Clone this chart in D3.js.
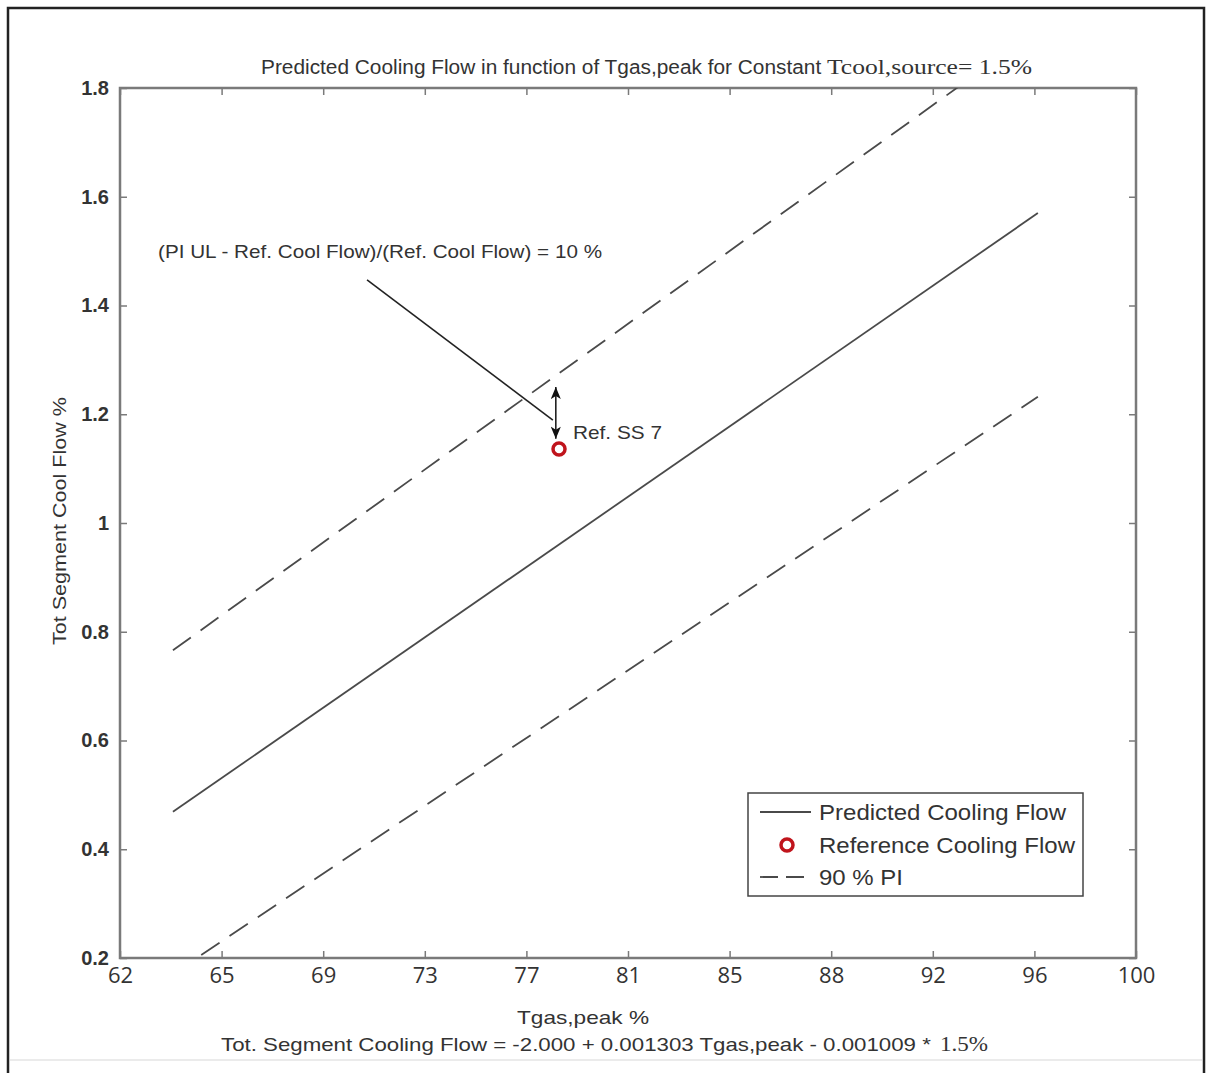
<!DOCTYPE html>
<html>
<head>
<meta charset="utf-8">
<script src="https://cdn.jsdelivr.net/npm/d3@7"></script>
<style>
  html, body { margin: 0; padding: 0; background: #fff; }
  svg { display: block; }
</style>
</head>
<body>
<svg id="chart" width="1207" height="1073"></svg>
<script>
// ---- data ----
const xTickValues = [62, 65.8, 69.6, 73.4, 77.2, 81, 84.8, 88.6, 92.4, 96.2, 100];
const xTickLabels = ["62", "65", "69", "73", "77", "81", "85", "88", "92", "96", "100"];
const yTickValues = [0.2, 0.4, 0.6, 0.8, 1.0, 1.2, 1.4, 1.6, 1.8];
const yTickLabels = ["0.2", "0.4", "0.6", "0.8", "1", "1.2", "1.4", "1.6", "1.8"];

const lineX = [63.98, 96.33];
const predicted = [0.469, 1.570];
const upperPI = [0.766, 1.907];
const lowerPI = [0.171, 1.232];

const refPoint = { x: 78.42, y: 1.136 };
const arrowX = 78.3;
const arrowY = [1.250, 1.155];
const leaderX = [71.24, 78.19];
const leaderY = [1.447, 1.189];

const titleSans = "Predicted Cooling Flow in function of Tgas,peak for Constant ";
const titleSerif = "Tcool,source= 1.5%";
const xLabel = "Tgas,peak %";
const yLabel = "Tot Segment Cool Flow %";
const eqSans = "Tot. Segment Cooling Flow = -2.000 + 0.001303 Tgas,peak - 0.001009 * ";
const eqSerif = "1.5%";
const annText = "(PI UL - Ref. Cool Flow)/(Ref. Cool Flow) = 10 %";
const refLabel = "Ref. SS 7";
const legendLabels = ["Predicted Cooling Flow", "Reference Cooling Flow", "90 % PI"];

// ---- layout ----
const svg = d3.select("#chart");
const L = 120, R = 1136, T = 88, B = 958;
const x = d3.scaleLinear().domain([62, 100]).range([L, R]);
const y = d3.scaleLinear().domain([0.2, 1.8]).range([B, T]);
const axisColor = "#7a7a7a";
const lineColor = "#4a4a4a";
const textColor = "#333";
const sans = "'Liberation Sans', Arial, sans-serif";
const serif = "'Liberation Serif', 'Times New Roman', serif";

// outer frame
svg.append("rect").attr("x", 8).attr("y", 8).attr("width", 1196).attr("height", 1090)
  .attr("fill", "none").attr("stroke", "#222").attr("stroke-width", 2.5);
svg.append("line").attr("x1", 10).attr("x2", 1202).attr("y1", 1060).attr("y2", 1060)
  .attr("stroke", "#e4e4e4").attr("stroke-width", 1.5);

const defs = svg.append("defs");
defs.append("clipPath").attr("id", "plotclip")
  .append("rect").attr("x", L).attr("y", T).attr("width", R - L).attr("height", B - T);
defs.append("marker").attr("id", "ah").attr("viewBox", "0 0 12 10")
  .attr("refX", 12).attr("refY", 5).attr("markerWidth", 13).attr("markerHeight", 10)
  .attr("markerUnits", "userSpaceOnUse").attr("orient", "auto-start-reverse")
  .append("path").attr("d", "M0,0 L12,5 L0,10 L3,5 Z").attr("fill", "#111");

// axes
const tickLen = 7;
const axB = svg.append("g").attr("transform", `translate(0,${B})`)
  .call(d3.axisBottom(x).tickValues(xTickValues).tickSize(-tickLen).tickSizeOuter(0)
    .tickFormat((d, i) => xTickLabels[i]).tickPadding(14));
const axT = svg.append("g").attr("transform", `translate(0,${T})`)
  .call(d3.axisTop(x).tickValues(xTickValues).tickSize(-tickLen).tickSizeOuter(0).tickFormat(""));
const axLf = svg.append("g").attr("transform", `translate(${L},0)`)
  .call(d3.axisLeft(y).tickValues(yTickValues).tickSize(-tickLen).tickSizeOuter(0)
    .tickFormat((d, i) => yTickLabels[i]).tickPadding(13));
const axRt = svg.append("g").attr("transform", `translate(${R},0)`)
  .call(d3.axisRight(y).tickValues(yTickValues).tickSize(-tickLen).tickSizeOuter(0).tickFormat(""));

[axB, axT, axLf, axRt].forEach(g => {
  g.select(".domain").remove();
  g.selectAll(".tick line").attr("stroke", axisColor).attr("stroke-width", 1.5);
});
axB.selectAll(".tick text").attr("fill", "#333").attr("font-family", "'Open Sans', sans-serif")
  .attr("font-size", 22).attr("dy", "0.5em");
axLf.selectAll(".tick text").attr("fill", "#333").attr("font-family", sans)
  .attr("font-size", 20).attr("font-weight", "bold").attr("dx", 2);
svg.append("rect").attr("x", L).attr("y", T).attr("width", R - L).attr("height", B - T)
  .attr("fill", "none").attr("stroke", axisColor).attr("stroke-width", 2.5);

// lines
const plot = svg.append("g").attr("clip-path", "url(#plotclip)");
const lg = d3.line().x(d => x(d[0])).y(d => y(d[1]));
plot.append("path").attr("d", lg(lineX.map((v, i) => [v, predicted[i]])))
  .attr("fill", "none").attr("stroke", lineColor).attr("stroke-width", 1.8);
plot.append("path").attr("d", lg(lineX.map((v, i) => [v, upperPI[i]])))
  .attr("fill", "none").attr("stroke", lineColor).attr("stroke-width", 1.8)
  .attr("stroke-dasharray", "22,12");
plot.append("path").attr("d", lg(lineX.map((v, i) => [v, lowerPI[i]])))
  .attr("fill", "none").attr("stroke", lineColor).attr("stroke-width", 1.8)
  .attr("stroke-dasharray", "22,12");

// leader line
svg.append("line").attr("x1", x(leaderX[0])).attr("y1", y(leaderY[0]))
  .attr("x2", x(leaderX[1])).attr("y2", y(leaderY[1]))
  .attr("stroke", "#222").attr("stroke-width", 1.6);
// double arrow
svg.append("line").attr("x1", x(arrowX)).attr("x2", x(arrowX))
  .attr("y1", y(arrowY[1])).attr("y2", y(arrowY[0]))
  .attr("stroke", "#222").attr("stroke-width", 1.6)
  .attr("marker-start", "url(#ah)").attr("marker-end", "url(#ah)");

// reference point
svg.append("circle").attr("cx", x(refPoint.x)).attr("cy", y(refPoint.y)).attr("r", 6)
  .attr("fill", "none").attr("stroke", "#c0141c").attr("stroke-width", 3.5);

// annotations
svg.append("text").attr("x", 573).attr("y", 439).text(refLabel)
  .attr("font-family", sans).attr("font-size", 19).attr("fill", textColor)
  .attr("textLength", 89).attr("lengthAdjust", "spacingAndGlyphs");
svg.append("text").attr("x", 158).attr("y", 258).text(annText)
  .attr("font-family", sans).attr("font-size", 19).attr("fill", textColor)
  .attr("textLength", 444).attr("lengthAdjust", "spacingAndGlyphs");

// title
const tt = svg.append("text").attr("x", 261).attr("y", 74).attr("fill", textColor);
tt.append("tspan").text(titleSans).attr("font-family", sans).attr("font-size", 20)
  .attr("textLength", 566).attr("lengthAdjust", "spacingAndGlyphs");
tt.append("tspan").text(titleSerif).attr("font-family", serif).attr("font-size", 21)
  .attr("x", 827).attr("textLength", 205).attr("lengthAdjust", "spacingAndGlyphs");

// x label
svg.append("text").attr("x", 583).attr("y", 1024).attr("text-anchor", "middle")
  .text(xLabel).attr("font-family", sans).attr("font-size", 19).attr("fill", textColor)
  .attr("textLength", 132).attr("lengthAdjust", "spacingAndGlyphs");
// equation
const eq = svg.append("text").attr("x", 221).attr("y", 1051).attr("fill", textColor);
eq.append("tspan").text(eqSans).attr("font-family", sans).attr("font-size", 19)
  .attr("textLength", 716).attr("lengthAdjust", "spacingAndGlyphs");
eq.append("tspan").text(eqSerif).attr("font-family", serif).attr("font-size", 20)
  .attr("x", 940).attr("textLength", 48).attr("lengthAdjust", "spacingAndGlyphs");

// y label
svg.append("text").attr("transform", "translate(66,521) rotate(-90)")
  .attr("text-anchor", "middle").text(yLabel)
  .attr("font-family", sans).attr("font-size", 18).attr("fill", textColor)
  .attr("textLength", 248).attr("lengthAdjust", "spacingAndGlyphs");

// legend
const lgd = svg.append("g");
lgd.append("rect").attr("x", 748).attr("y", 793).attr("width", 335).attr("height", 103)
  .attr("fill", "#fff").attr("stroke", "#444").attr("stroke-width", 1.5);
const rowsY = [812, 845, 877];
const legendWidths = [247, 256, 84];
lgd.append("line").attr("x1", 760).attr("x2", 811).attr("y1", rowsY[0]).attr("y2", rowsY[0])
  .attr("stroke", lineColor).attr("stroke-width", 1.8);
lgd.append("circle").attr("cx", 787).attr("cy", rowsY[1]).attr("r", 6)
  .attr("fill", "none").attr("stroke", "#c0141c").attr("stroke-width", 3.5);
lgd.append("line").attr("x1", 760).attr("x2", 811).attr("y1", rowsY[2]).attr("y2", rowsY[2])
  .attr("stroke", lineColor).attr("stroke-width", 1.8).attr("stroke-dasharray", "18,8");
legendLabels.forEach((t, i) => {
  lgd.append("text").attr("x", 819).attr("y", rowsY[i] + 8).text(t)
    .attr("font-family", sans).attr("font-size", 22).attr("fill", textColor)
    .attr("textLength", legendWidths[i]).attr("lengthAdjust", "spacingAndGlyphs");
});
</script>
</body>
</html>
